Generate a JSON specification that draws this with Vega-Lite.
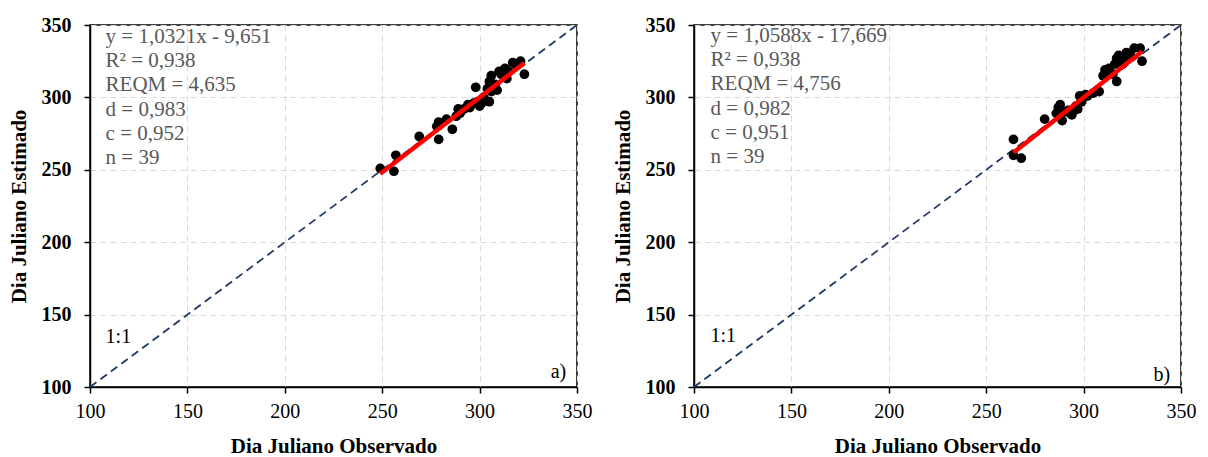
{
  "$schema": "https://vega.github.io/schema/vega-lite/v6.json",
  "background": "white",
  "padding": {"left": 7, "top": 14, "right": 5, "bottom": 3},
  "spacing": 18,
  "datasets": {
    "pointsA": [
      {"obs": 249, "est": 251}, {"obs": 256, "est": 249}, {"obs": 257, "est": 260}, {"obs": 269, "est": 273},
      {"obs": 279, "est": 271}, {"obs": 278, "est": 280}, {"obs": 279, "est": 283}, {"obs": 283, "est": 285},
      {"obs": 286, "est": 278}, {"obs": 288, "est": 287}, {"obs": 289, "est": 292}, {"obs": 290, "est": 289},
      {"obs": 292, "est": 292}, {"obs": 294, "est": 295}, {"obs": 295, "est": 293}, {"obs": 297, "est": 296},
      {"obs": 298, "est": 307}, {"obs": 299, "est": 297}, {"obs": 300, "est": 294}, {"obs": 301, "est": 296},
      {"obs": 302, "est": 300}, {"obs": 303, "est": 298}, {"obs": 304, "est": 306}, {"obs": 305, "est": 297},
      {"obs": 305, "est": 311}, {"obs": 306, "est": 304}, {"obs": 306, "est": 315}, {"obs": 308, "est": 309},
      {"obs": 309, "est": 305}, {"obs": 310, "est": 318}, {"obs": 311, "est": 316}, {"obs": 312, "est": 317},
      {"obs": 313, "est": 320}, {"obs": 314, "est": 313}, {"obs": 315, "est": 318}, {"obs": 317, "est": 324},
      {"obs": 319, "est": 322}, {"obs": 321, "est": 325}, {"obs": 323, "est": 316}
    ],
    "pointsB": [
      {"obs": 264, "est": 271}, {"obs": 264, "est": 260}, {"obs": 268, "est": 258}, {"obs": 280, "est": 285},
      {"obs": 286, "est": 289}, {"obs": 287, "est": 293}, {"obs": 288, "est": 295}, {"obs": 289, "est": 284},
      {"obs": 290, "est": 290}, {"obs": 292, "est": 291}, {"obs": 293, "est": 289}, {"obs": 294, "est": 288},
      {"obs": 295, "est": 291}, {"obs": 296, "est": 294}, {"obs": 297, "est": 292}, {"obs": 298, "est": 301},
      {"obs": 299, "est": 297}, {"obs": 300, "est": 300}, {"obs": 301, "est": 302}, {"obs": 302, "est": 301},
      {"obs": 305, "est": 303}, {"obs": 307, "est": 305}, {"obs": 308, "est": 304}, {"obs": 310, "est": 315},
      {"obs": 311, "est": 319}, {"obs": 312, "est": 317}, {"obs": 313, "est": 320}, {"obs": 315, "est": 316},
      {"obs": 316, "est": 323}, {"obs": 317, "est": 311}, {"obs": 317, "est": 327}, {"obs": 318, "est": 329},
      {"obs": 320, "est": 323}, {"obs": 321, "est": 327}, {"obs": 322, "est": 331}, {"obs": 324, "est": 329},
      {"obs": 326, "est": 334}, {"obs": 329, "est": 334}, {"obs": 330, "est": 325}
    ],
    "fitA": [{"obs": 249, "est": 247.3}, {"obs": 323, "est": 323.7}],
    "fitB": [{"obs": 264, "est": 261.9}, {"obs": 330, "est": 331.7}],
    "diag": [{"obs": 100, "est": 100}, {"obs": 350, "est": 350}],
    "textA": [
      {"x": 108, "y": 341.7, "label": "y = 1,0321x - 9,651"},
      {"x": 108, "y": 325.1, "label": "R² = 0,938"},
      {"x": 108, "y": 308.6, "label": "REQM = 4,635"},
      {"x": 108, "y": 291.3, "label": "d = 0,983"},
      {"x": 108, "y": 274.7, "label": "c = 0,952"},
      {"x": 108, "y": 258.1, "label": "n = 39"}
    ],
    "textB": [
      {"x": 108.5, "y": 342.5, "label": "y = 1,0588x - 17,669"},
      {"x": 108.5, "y": 325.9, "label": "R² = 0,938"},
      {"x": 108.5, "y": 309.3, "label": "REQM = 4,756"},
      {"x": 108.5, "y": 292.0, "label": "d = 0,982"},
      {"x": 108.5, "y": 275.4, "label": "c = 0,951"},
      {"x": 108.5, "y": 258.8, "label": "n = 39"}
    ],
    "markA": [{"x": 108, "y": 134.5, "label": "1:1"}],
    "cornerA": [{"x": 344.5, "y": 110.4, "label": "a)"}],
    "markB": [{"x": 108.5, "y": 135, "label": "1:1"}],
    "cornerB": [{"x": 344.5, "y": 108.5, "label": "b)"}]
  },
  "config": {
    "font": "Liberation Serif",
    "view": {"stroke": "#000000", "strokeWidth": 1.5},
    "axis": {
      "grid": true,
      "gridColor": "#d9d9d9",
      "gridDash": [6, 4],
      "gridWidth": 1,
      "domainColor": "#000000",
      "domainWidth": 1.5,
      "tickColor": "#000000",
      "tickSize": 6,
      "tickWidth": 1.5,
      "labelFlush": false,
      "labelOverlap": false,
      "labelFont": "Liberation Serif",
      "labelFontSize": 20,
      "labelColor": "#000000",
      "titleFont": "Liberation Serif",
      "titleFontSize": 21,
      "titleFontWeight": "bold",
      "titleColor": "#000000"
    }
  },
  "hconcat": [
    {
      "width": 487,
      "height": 362,
      "layer": [
        {
          "data": {"name": "diag"},
          "mark": {"type": "line", "color": "#1f3864", "strokeDash": [8, 5], "strokeWidth": 1.8},
          "encoding": {
            "x": {"field": "obs", "type": "quantitative", "scale": {"domain": [100, 350], "nice": false},
                  "axis": {"values": [100, 150, 200, 250, 300, 350], "title": "Dia Juliano Observado", "labelPadding": 8, "titlePadding": 14}},
            "y": {"field": "est", "type": "quantitative", "scale": {"domain": [100, 350], "nice": false},
                  "axis": {"values": [100, 150, 200, 250, 300, 350], "title": "Dia Juliano Estimado", "labelFontWeight": "bold", "labelPadding": 13, "titlePadding": 12}}
          }
        },
        {
          "data": {"name": "pointsA"},
          "mark": {"type": "circle", "color": "#000000", "opacity": 1, "size": 95},
          "encoding": {
            "x": {"field": "obs", "type": "quantitative"},
            "y": {"field": "est", "type": "quantitative"}
          }
        },
        {
          "data": {"name": "fitA"},
          "mark": {"type": "line", "color": "#ff0000", "strokeWidth": 4.5},
          "encoding": {
            "x": {"field": "obs", "type": "quantitative"},
            "y": {"field": "est", "type": "quantitative"}
          }
        },
        {
          "data": {"name": "textA"},
          "mark": {"type": "text", "align": "left", "baseline": "middle", "fontSize": 21, "color": "#595959", "font": "Liberation Serif"},
          "encoding": {
            "x": {"field": "x", "type": "quantitative"},
            "y": {"field": "y", "type": "quantitative"},
            "text": {"field": "label"}
          }
        },
        {
          "data": {"name": "markA"},
          "mark": {"type": "text", "align": "left", "baseline": "middle", "fontSize": 20, "color": "#000000", "font": "Liberation Serif"},
          "encoding": {
            "x": {"field": "x", "type": "quantitative"},
            "y": {"field": "y", "type": "quantitative"},
            "text": {"field": "label"}
          }
        },
        {
          "data": {"name": "cornerA"},
          "mark": {"type": "text", "align": "right", "baseline": "middle", "fontSize": 20, "color": "#000000", "font": "Liberation Serif"},
          "encoding": {
            "x": {"field": "x", "type": "quantitative"},
            "y": {"field": "y", "type": "quantitative"},
            "text": {"field": "label"}
          }
        }
      ]
    },
    {
      "width": 487,
      "height": 362,
      "layer": [
        {
          "data": {"name": "diag"},
          "mark": {"type": "line", "color": "#1f3864", "strokeDash": [8, 5], "strokeWidth": 1.8},
          "encoding": {
            "x": {"field": "obs", "type": "quantitative", "scale": {"domain": [100, 350], "nice": false},
                  "axis": {"values": [100, 150, 200, 250, 300, 350], "title": "Dia Juliano Observado", "labelPadding": 8, "titlePadding": 14}},
            "y": {"field": "est", "type": "quantitative", "scale": {"domain": [100, 350], "nice": false},
                  "axis": {"values": [100, 150, 200, 250, 300, 350], "title": "Dia Juliano Estimado", "labelFontWeight": "bold", "labelPadding": 13, "titlePadding": 12}}
          }
        },
        {
          "data": {"name": "pointsB"},
          "mark": {"type": "circle", "color": "#000000", "opacity": 1, "size": 95},
          "encoding": {
            "x": {"field": "obs", "type": "quantitative"},
            "y": {"field": "est", "type": "quantitative"}
          }
        },
        {
          "data": {"name": "fitB"},
          "mark": {"type": "line", "color": "#ff0000", "strokeWidth": 4.5},
          "encoding": {
            "x": {"field": "obs", "type": "quantitative"},
            "y": {"field": "est", "type": "quantitative"}
          }
        },
        {
          "data": {"name": "textB"},
          "mark": {"type": "text", "align": "left", "baseline": "middle", "fontSize": 21, "color": "#595959", "font": "Liberation Serif"},
          "encoding": {
            "x": {"field": "x", "type": "quantitative"},
            "y": {"field": "y", "type": "quantitative"},
            "text": {"field": "label"}
          }
        },
        {
          "data": {"name": "markB"},
          "mark": {"type": "text", "align": "left", "baseline": "middle", "fontSize": 20, "color": "#000000", "font": "Liberation Serif"},
          "encoding": {
            "x": {"field": "x", "type": "quantitative"},
            "y": {"field": "y", "type": "quantitative"},
            "text": {"field": "label"}
          }
        },
        {
          "data": {"name": "cornerB"},
          "mark": {"type": "text", "align": "right", "baseline": "middle", "fontSize": 20, "color": "#000000", "font": "Liberation Serif"},
          "encoding": {
            "x": {"field": "x", "type": "quantitative"},
            "y": {"field": "y", "type": "quantitative"},
            "text": {"field": "label"}
          }
        }
      ]
    }
  ]
}
